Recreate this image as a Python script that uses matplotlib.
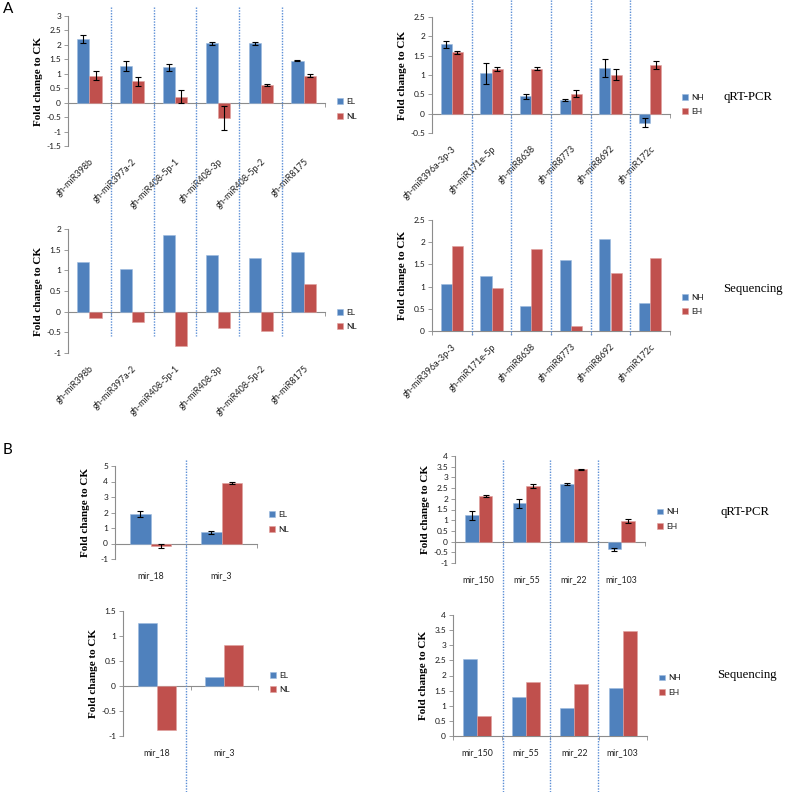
import numpy as np
import matplotlib
matplotlib.use('Agg')
import matplotlib.pyplot as plt
from matplotlib.lines import Line2D
from matplotlib.transforms import blended_transform_factory

# Panel A, left (EL / NL)
mirs_a_left = ['gh-miR398b', 'gh-miR397a-2', 'gh-miR408-5p-1', 'gh-miR408-3p',
               'gh-miR408-5p-2', 'gh-miR8175']
qpcr_el = [2.21, 1.27, 1.23, 2.05, 2.05, 1.45]
qpcr_el_err = [0.13, 0.17, 0.12, 0.06, 0.04, 0.01]
qpcr_nl = [0.94, 0.74, 0.21, -0.52, 0.62, 0.94]
qpcr_nl_err = [0.15, 0.15, 0.22, 0.41, 0.03, 0.05]
seq_el = [1.20, 1.03, 1.85, 1.38, 1.31, 1.45]
seq_nl = [-0.15, -0.25, -0.84, -0.39, -0.47, 0.66]

# Panel A, right (NH / EH)
mirs_a_right = ['gh-miR396a-3p-3', 'gh-miR171e-5p', 'gh-miR8638', 'gh-miR8773',
                'gh-miR8692', 'gh-miR172c']
qpcr_nh = [1.80, 1.04, 0.45, 0.35, 1.18, -0.23]
qpcr_nh_err = [0.09, 0.28, 0.07, 0.03, 0.24, 0.12]
qpcr_eh = [1.59, 1.16, 1.16, 0.51, 1.01, 1.26]
qpcr_eh_err = [0.04, 0.05, 0.04, 0.09, 0.15, 0.11]
seq_nh = [1.06, 1.23, 0.57, 1.60, 2.08, 0.64]
seq_eh = [1.92, 0.96, 1.84, 0.12, 1.31, 1.64]

# Panel B, left (EL / NL)
mirs_b_left = ['mir_18', 'mir_3']
b_qpcr_el = [1.89, 0.71]
b_qpcr_el_err = [0.2, 0.1]
b_qpcr_nl = [-0.15, 3.88]
b_qpcr_nl_err = [0.12, 0.07]
b_seq_el = [1.27, 0.19]
b_seq_nl = [-0.87, 0.83]

# Panel B, right (NH / EH)
mirs_b_right = ['mir_150', 'mir_55', 'mir_22', 'mir_103']
b_qpcr_nh = [1.23, 1.79, 2.68, -0.36]
b_qpcr_nh_err = [0.2, 0.22, 0.05, 0.08]
b_qpcr_eh = [2.14, 2.60, 3.37, 0.97]
b_qpcr_eh_err = [0.04, 0.1, 0.03, 0.09]
b_seq_nh = [2.56, 1.28, 0.93, 1.58]
b_seq_eh = [0.67, 1.78, 1.72, 3.48]

BLUE = '#4F81BD'
RED = '#C0504D'
GRAY = '#8c8c8c'
DOT = '#5b8ed6'
W, H = 787, 792

fig = plt.figure(figsize=(W / 100, H / 100), dpi=100)
plt.rcParams['font.family'] = 'Lato'


def make_axes(l, r, t, b):
    return fig.add_axes([l / W, 1 - b / H, (r - l) / W, (b - t) / H])


def panel(ax, cats, v1, v2, names, ylim, step, e1=None, e2=None, rot=False, leg_y=0.3):
    n = len(cats)
    x = np.arange(n)
    w = 0.285
    ekw = dict(ecolor='black', elinewidth=0.8, capsize=2, capthick=0.8)
    b1 = ax.bar(x - w / 2, v1, w, color=BLUE, edgecolor='#9dbbe0', linewidth=0.4,
                yerr=e1, error_kw=ekw, label=names[0])
    b2 = ax.bar(x + w / 2, v2, w, color=RED, edgecolor='#e0a09e', linewidth=0.4,
                yerr=e2, error_kw=ekw, label=names[1])
    ax.set_xlim(-0.5, n - 0.5)
    ax.set_ylim(*ylim)
    ax.set_yticks(np.arange(ylim[0], ylim[1] + step / 2, step))
    ax.set_yticklabels(['{:g}'.format(round(v, 2)) for v in ax.get_yticks()])
    for s in ['top', 'right', 'bottom']:
        ax.spines[s].set_visible(False)
    ax.spines['left'].set_color(GRAY)
    ax.spines['left'].set_linewidth(0.8)
    ax.tick_params(axis='y', length=3, width=0.6, color=GRAY, labelsize=6, pad=2,
                   labelcolor='#1a1a1a')
    ax.set_xticks(x)
    if rot:
        ax.set_xticklabels(cats, rotation=45, ha='right', rotation_mode='anchor',
                           fontsize=6.5, color='#222222')
        ax.tick_params(axis='x', length=0, pad=8)
    else:
        ax.set_xticklabels(cats, fontsize=6.3, color='#222222')
        ax.tick_params(axis='x', length=0, pad=9)
    # zero line with category separator ticks
    zero = (0 - ylim[0]) / (ylim[1] - ylim[0])
    sec = ax.secondary_xaxis(zero)
    sec.set_xticks(np.arange(-0.5, n, 1.0))
    sec.set_xticklabels([])
    sec.tick_params(length=3, width=0.6, color=GRAY, direction='out')
    sec.spines['bottom'].set_color(GRAY)
    sec.spines['bottom'].set_linewidth(0.8)
    width_px = ax.get_position().width * W
    ax.set_ylabel('Fold change to CK', family='Liberation Serif', fontweight='bold',
                  fontsize=8)
    ax.yaxis.set_label_coords(-25 / width_px, 0.5)
    ax.legend(handles=[b1, b2], loc='center left', bbox_to_anchor=(1 + 12 / width_px, leg_y),
              frameon=False, fontsize=6, handlelength=0.7, handleheight=0.7,
              handletextpad=0.4, labelspacing=0.9, borderaxespad=0, borderpad=0,
              labelcolor='#1a1a1a')


def separators(ax, n, y0, y1):
    tr = blended_transform_factory(ax.transData, fig.transFigure)
    for b in np.arange(0.5, n - 0.5, 1.0):
        fig.add_artist(Line2D([b, b], [1 - y0 / H, 1 - y1 / H], transform=tr,
                              color=DOT, linestyle=(0, (1, 1)), linewidth=1.0))


a1 = make_axes(68, 325, 16, 146)
panel(a1, mirs_a_left, qpcr_el, qpcr_nl, ['EL', 'NL'], (-1.5, 3), 0.5,
      qpcr_el_err, qpcr_nl_err, rot=True, leg_y=0.285)
a2 = make_axes(432, 670, 17, 133)
panel(a2, mirs_a_right, qpcr_nh, qpcr_eh, ['NH', 'EH'], (-0.5, 2.5), 0.5,
      qpcr_nh_err, qpcr_eh_err, rot=True, leg_y=0.245)
a3 = make_axes(68, 325, 229, 353)
panel(a3, mirs_a_left, seq_el, seq_nl, ['EL', 'NL'], (-1, 2), 0.5, rot=True, leg_y=0.27)
a4 = make_axes(432, 670, 220, 331)
panel(a4, mirs_a_right, seq_nh, seq_eh, ['NH', 'EH'], (0, 2.5), 0.5, rot=True, leg_y=0.24)

b1 = make_axes(115, 257, 466, 559)
panel(b1, mirs_b_left, b_qpcr_el, b_qpcr_nl, ['EL', 'NL'], (-1, 5), 1,
      b_qpcr_el_err, b_qpcr_nl_err, leg_y=0.40)
b2 = make_axes(455, 645, 456, 563)
panel(b2, mirs_b_right, b_qpcr_nh, b_qpcr_eh, ['NH', 'EH'], (-1, 4), 0.5,
      b_qpcr_nh_err, b_qpcr_eh_err, leg_y=0.41)
b3 = make_axes(123, 258, 611, 736)
panel(b3, mirs_b_left, b_seq_el, b_seq_nl, ['EL', 'NL'], (-1, 1.5), 0.5, leg_y=0.43)
b4 = make_axes(453, 647, 615, 736)
panel(b4, mirs_b_right, b_seq_nh, b_seq_eh, ['NH', 'EH'], (0, 4), 0.5, leg_y=0.42)

# dotted separators between miRNAs
separators(a1, len(mirs_a_left), 7, 336)
separators(a2, len(mirs_a_right), 0, 336)
separators(b1, len(mirs_b_left), 460, 792)
separators(b2, len(mirs_b_right), 460, 792)

serif = dict(family='Liberation Serif', fontsize=9.2, ha='center', va='center')
fig.text(748 / W, 1 - 97 / H, 'qRT-PCR', **serif)
fig.text(753 / W, 1 - 289 / H, 'Sequencing', **serif)
fig.text(745 / W, 1 - 512 / H, 'qRT-PCR', **serif)
fig.text(747 / W, 1 - 675 / H, 'Sequencing', **serif)
fig.text(3 / W, 1 - 2 / H, 'A', fontsize=11, ha='left', va='top')
fig.text(3 / W, 1 - 443 / H, 'B', fontsize=11, ha='left', va='top')

fig.savefig('out.png', dpi=100)
